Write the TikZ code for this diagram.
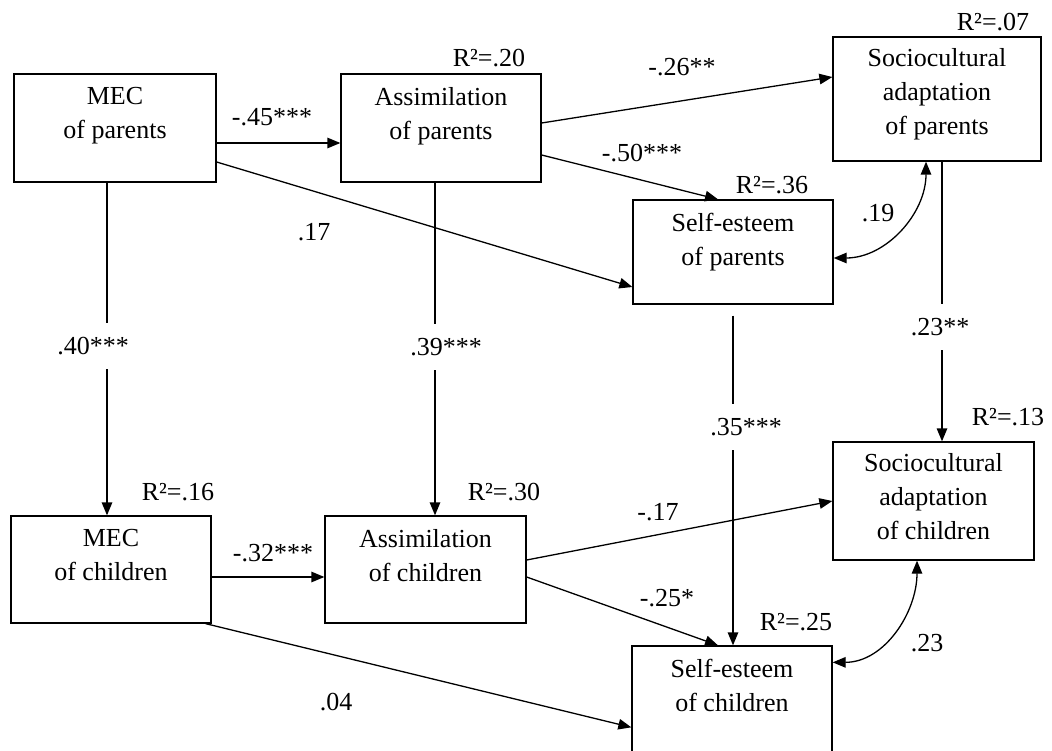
\documentclass[tikz,border=0pt]{standalone}
\usepackage{fontspec}
\setmainfont{Liberation Serif}
\usetikzlibrary{arrows.meta,calc}
\begin{document}
\begin{tikzpicture}[x=1pt,y=-1pt,
  box/.style={draw, line width=1.3pt, inner sep=0pt},
  boxtext/.style={anchor=north, align=center, inner sep=0pt,
    font=\fontsize{26}{34}\selectfont},
  coef/.style={font=\fontsize{26}{30}\selectfont, inner sep=1pt},
  gapcoef/.style={coef, fill=white, minimum height=46pt},
  link/.style={line width=1.3pt},
  arr/.style={link, -{Triangle[length=13pt,width=10.5pt]}},
  biarr/.style={link, {Triangle[length=13pt,width=10.5pt]}-{Triangle[length=13pt,width=10.5pt]}},
]
\useasboundingbox (0,0) rectangle (1052,751);
\clip (0,0) rectangle (1052,751);

% parents row
\node[box, minimum width=202pt, minimum height=108pt] (MECp) at (115,128) {};
\node[boxtext] (MECpT) at ($(MECp.north)+(0,14)$) {MEC\\of parents};
\node[box, minimum width=200pt, minimum height=108pt] (ASp) at (441,128) {};
\node[boxtext] (ASpT) at ($(ASp.north)+(0,14)$) {Assimilation\\of parents};
\node[box, minimum width=208pt, minimum height=124pt] (SCp) at (937,99) {};
\node[boxtext] (SCpT) at ($(SCp.north)+(0,11.5)$) {Sociocultural\\adaptation\\of parents};
\node[box, minimum width=200pt, minimum height=104pt] (SEp) at (733,252) {};
\node[boxtext] (SEpT) at ($(SEp.north)+(0,14)$) {Self-esteem\\of parents};

% children row
\node[box, minimum width=200pt, minimum height=107pt] (MECc) at (111,569.5) {};
\node[boxtext] (MECcT) at ($(MECc.north)+(0,14)$) {MEC\\of children};
\node[box, minimum width=201pt, minimum height=107pt] (ASc) at (425.5,569.5) {};
\node[boxtext] (AScT) at ($(ASc.north)+(0,14)$) {Assimilation\\of children};
\node[box, minimum width=201pt, minimum height=118pt] (SCc) at (933.5,501) {};
\node[boxtext] (SCcT) at ($(SCc.north)+(0,11.5)$) {Sociocultural\\adaptation\\of children};
\node[box, minimum width=200pt, minimum height=110pt] (SEc) at (732,701) {};
\node[boxtext] (SEcT) at ($(SEc.north)+(0,14)$) {Self-esteem\\of children};

% explained variance
\node[coef] (r2ASp) at (489,58) {R²=.20};
\node[coef] (r2SCp) at (993,22) {R²=.07};
\node[coef] (r2SEp) at (772,185) {R²=.36};
\node[coef] (r2MECc) at (178,492) {R²=.16};
\node[coef] (r2ASc) at (504,492) {R²=.30};
\node[coef] (r2SCc) at (1008,417) {R²=.13};
\node[coef] (r2SEc) at (796,622) {R²=.25};

% paths among parents
\draw[arr] ($(MECp.east)+(0,15)$) -- ($(ASp.west)+(0,15)$);
\draw[arr] ($(ASp.east)+(0,-5)$) -- ($(SCp.west)+(0,-22)$);
\draw[arr] ($(ASp.east)+(0,27)$) -- ($(SEp.north)+(-15,0)$);
\draw[arr] ($(MECp.east)+(0,34)$) -- ($(SEp.west)+(0,35)$);
\draw[biarr] ($(SCp.south)+(-11,0)$) to[out=-90,in=0] ($(SEp.east)+(0,6)$);

% paths from parents to children
\draw[arr] ($(MECp.south)+(-8,0)$) -- ($(MECc.north)+(-4,0)$);
\draw[arr] ($(ASp.south)+(-6,0)$) -- ($(ASc.north)+(9.5,0)$);
\draw[arr] ($(SEp.south)+(0,11)$) -- ($(SEc.north)+(1,0)$);
\draw[arr] ($(SCp.south)+(5,0)$) -- ($(SCc.north)+(8.5,0)$);

% paths among children
\draw[arr] ($(MECc.east)+(0,7.5)$) -- ($(ASc.west)+(0,7.5)$);
\draw[arr] ($(ASc.east)+(0,-9.5)$) -- (SCc.west);
\draw[arr] ($(ASc.east)+(0,7.5)$) -- ($(SEc.north)+(-14,0)$);
\draw[arr] ($(MECc.south east)+(-6,0)$) -- ($(SEc.north west)+(0,82)$);
\draw[biarr] ($(SCc.south)+(-16.5,0)$) to[out=-90,in=0] ($(SEc.north east)+(0,17)$);

% path coefficients
\node[coef] (c45) at (272,117) {-.45***};
\node[coef] (c26) at (682,67) {-.26**};
\node[coef] (c50) at (642,153) {-.50***};
\node[coef] (c17p) at (314,232) {.17};
\node[coef] (c19) at (878,213) {.19};
\node[gapcoef] (c40) at (93,346) {.40***};
\node[gapcoef] (c39) at (446,347) {.39***};
\node[gapcoef] (c35) at (746,427) {.35***};
\node[gapcoef] (c23p) at (940,327) {.23**};
\node[coef] (c32) at (273,553) {-.32***};
\node[coef] (c17c) at (658,512) {-.17};
\node[coef] (c25) at (667,598) {-.25*};
\node[coef] (c23c) at (927,643) {.23};
\node[coef] (c04) at (336,702) {.04};
\end{tikzpicture}
\end{document}
